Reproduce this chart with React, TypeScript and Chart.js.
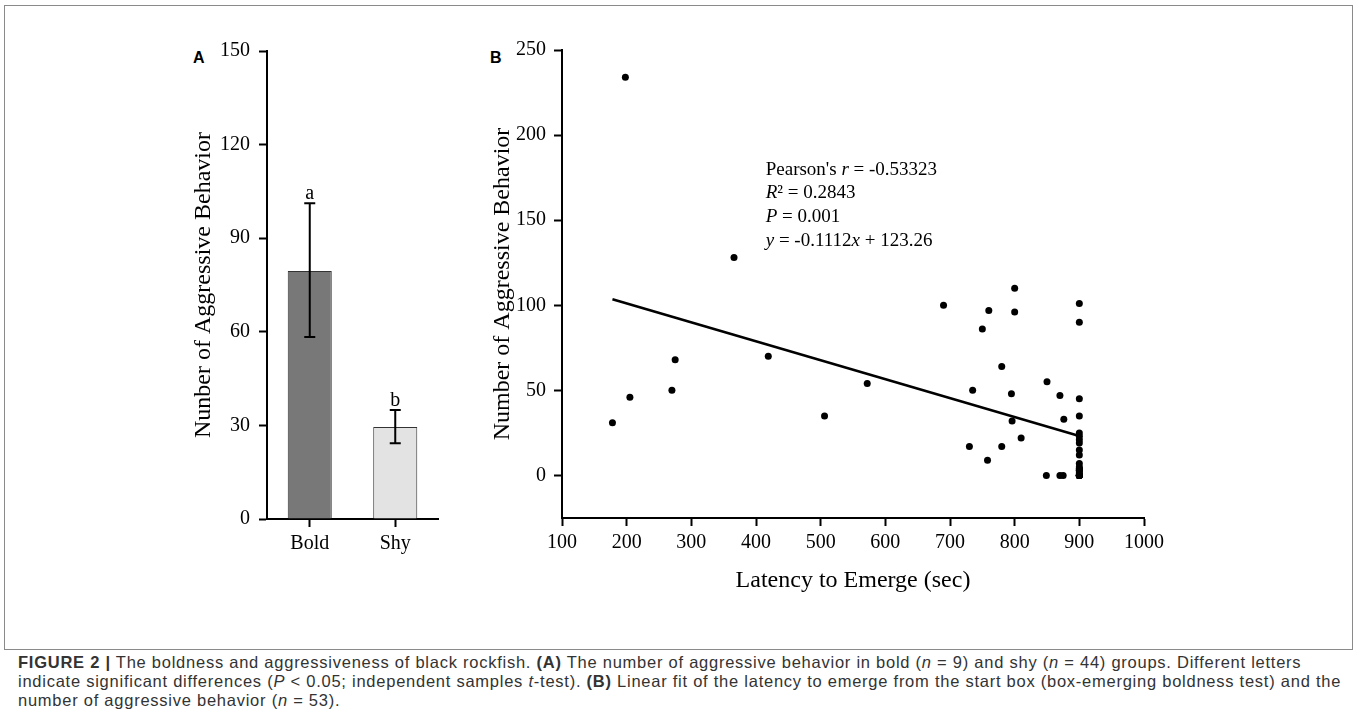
import React, { useEffect, useRef } from "react";
import { Chart, registerables } from "chart.js";

Chart.register(...registerables);

// ---------- Panel A data ----------
const GROUPS = ["Bold", "Shy"];
const GROUP_MEANS = [79.5, 29.5];
const GROUP_ERR_UPPER = [101.2, 34.9];
const GROUP_ERR_LOWER = [58.3, 24.3];
const GROUP_LETTERS = ["a", "b"];
const GROUP_COLORS = ["#787878", "#e3e3e3"];
const A_Y_TICKS = [0, 30, 60, 90, 120, 150];

// ---------- Panel B data ----------
const LATENCY = [
  178, 198, 205, 270, 275, 366, 419, 506, 572,
  690, 800, 760, 800, 750, 780, 735, 795, 850, 870, 876, 796, 810, 730, 780, 758, 849, 870, 875,
  900, 900, 900, 900, 900, 900, 900, 900, 900, 900, 900, 900, 900, 900, 900, 900, 900, 900, 900, 900, 900, 900, 900, 900, 900,
];
const AGGRESSION = [
  31, 234, 46, 50, 68, 128, 70, 35, 54,
  100, 110, 97, 96, 86, 64, 50, 48, 55, 47, 33, 32, 22, 17, 17, 9, 0, 0, 0,
  101, 90, 45, 35, 25, 23, 21, 19, 15, 12, 7, 5, 3, 0, 0, 0, 0, 0, 0, 0, 1, 2, 3, 4, 4,
];
const FIT_X = [178, 900];
const FIT_Y = [103.5, 23.2];
const B_X_TICKS = [100, 200, 300, 400, 500, 600, 700, 800, 900, 1000];
const B_Y_TICKS = [0, 50, 100, 150, 200, 250];
const STATS_X = 415;
const STATS_Y = [179.5, 166, 152, 138];

const SERIF = "'Liberation Serif', 'Times New Roman', serif";
const SANS = "'Liberation Sans', Arial, sans-serif";

const axisCommon = {
  grid: {
    display: true,
    drawOnChartArea: false,
    drawTicks: true,
    tickLength: 8,
    tickWidth: 2,
    tickColor: "#000",
  },
  border: { display: true, color: "#000", width: 2 },
};

const errorBarPlugin = {
  id: "errorBars",
  afterDatasetsDraw(chart: any) {
    const { ctx } = chart;
    const x = chart.scales.x;
    const y = chart.scales.y;
    ctx.save();
    ctx.strokeStyle = "#000";
    ctx.lineWidth = 2;
    ctx.fillStyle = "#000";
    ctx.font = `20px ${SERIF}`;
    ctx.textAlign = "center";
    ctx.textBaseline = "alphabetic";
    GROUPS.forEach((_, i) => {
      const px = x.getPixelForValue(i);
      const yt = y.getPixelForValue(GROUP_ERR_UPPER[i]);
      const yb = y.getPixelForValue(GROUP_ERR_LOWER[i]);
      ctx.beginPath();
      ctx.moveTo(px, yt);
      ctx.lineTo(px, yb);
      ctx.moveTo(px - 5.5, yt);
      ctx.lineTo(px + 5.5, yt);
      ctx.moveTo(px - 5.5, yb);
      ctx.lineTo(px + 5.5, yb);
      ctx.stroke();
      ctx.fillText(GROUP_LETTERS[i], px, yt - 4);
    });
    ctx.restore();
  },
};

type Seg = { t: string; i?: boolean };
const STATS_LINES: Seg[][] = [
  [{ t: "Pearson's " }, { t: "r", i: true }, { t: " = -0.53323" }],
  [{ t: "R", i: true }, { t: "\u00B2 = 0.2843" }],
  [{ t: "P", i: true }, { t: " = 0.001" }],
  [{ t: "y", i: true }, { t: " = -0.1112" }, { t: "x", i: true }, { t: " + 123.26" }],
];

const statsPlugin = {
  id: "statsText",
  afterDatasetsDraw(chart: any) {
    const { ctx } = chart;
    const x = chart.scales.x;
    const y = chart.scales.y;
    ctx.save();
    ctx.fillStyle = "#000";
    ctx.textAlign = "left";
    ctx.textBaseline = "middle";
    STATS_LINES.forEach((line, li) => {
      let px = x.getPixelForValue(STATS_X);
      const py = y.getPixelForValue(STATS_Y[li]);
      line.forEach((seg) => {
        ctx.font = `${seg.i ? "italic " : ""}19px ${SERIF}`;
        ctx.fillText(seg.t, px, py);
        px += ctx.measureText(seg.t).width;
      });
    });
    ctx.restore();
  },
};

export default function App() {
  const aRef = useRef<HTMLCanvasElement>(null);
  const bRef = useRef<HTMLCanvasElement>(null);

  useEffect(() => {
    const chartA = new Chart(aRef.current as HTMLCanvasElement, {
      type: "bar",
      data: {
        labels: GROUPS,
        datasets: [
          {
            data: GROUP_MEANS,
            backgroundColor: GROUP_COLORS,
            borderColor: "#333",
            borderWidth: 1,
            barPercentage: 0.515,
            categoryPercentage: 1,
          },
        ],
      },
      options: {
        responsive: false,
        animation: false,
        layout: { padding: { top: 20, right: 12, left: 0, bottom: 0 } },
        plugins: { legend: { display: false }, tooltip: { enabled: false } },
        scales: {
          x: {
            type: "category",
            offset: true,
            ...axisCommon,
            grid: { ...axisCommon.grid, offset: false },
            ticks: { color: "#000", font: { family: SERIF, size: 20 }, padding: 5, maxRotation: 0 },
            afterFit: (s: any) => {
              s.height = 41;
            },
          },
          y: {
            type: "linear",
            min: 0,
            max: 150,
            ...axisCommon,
            afterBuildTicks: (s: any) => {
              s.ticks = A_Y_TICKS.map((v) => ({ value: v }));
            },
            ticks: {
              color: "#000",
              font: { family: SERIF, size: 20 },
              padding: 9,
              callback: (v: any) => String(v),
            },
            title: {
              display: true,
              text: "Nunber of Aggressive Behavior",
              color: "#000",
              font: { family: SERIF, size: 24 },
              padding: 0,
            },
            afterFit: (s: any) => {
              s.width = 78;
            },
          },
        },
      } as any,
      plugins: [errorBarPlugin],
    });

    const chartB = new Chart(bRef.current as HTMLCanvasElement, {
      type: "scatter",
      data: {
        datasets: [
          {
            type: "scatter",
            data: LATENCY.map((v, i) => ({ x: v, y: AGGRESSION[i] })),
            pointRadius: 3.5,
            pointBackgroundColor: "#000",
            pointBorderWidth: 0,
          },
          {
            type: "line",
            data: FIT_X.map((v, i) => ({ x: v, y: FIT_Y[i] })),
            borderColor: "#000",
            borderWidth: 2.5,
            pointRadius: 0,
            showLine: true,
            fill: false,
          },
        ],
      } as any,
      options: {
        responsive: false,
        animation: false,
        layout: { padding: { top: 20, right: 30, left: 0, bottom: 0 } },
        plugins: { legend: { display: false }, tooltip: { enabled: false } },
        scales: {
          x: {
            type: "linear",
            min: 100,
            max: 1000,
            ...axisCommon,
            afterBuildTicks: (s: any) => {
              s.ticks = B_X_TICKS.map((v) => ({ value: v }));
            },
            ticks: {
              color: "#000",
              font: { family: SERIF, size: 20 },
              padding: 5,
              autoSkip: false,
              maxRotation: 0,
              callback: (v: any) => String(v),
            },
            title: {
              display: true,
              text: "Latency to Emerge (sec)",
              color: "#000",
              font: { family: SERIF, size: 24 },
              padding: 0,
            },
            afterFit: (s: any) => {
              s.height = 77;
            },
          },
          y: {
            type: "linear",
            min: -25,
            max: 250,
            ...axisCommon,
            afterBuildTicks: (s: any) => {
              s.ticks = B_Y_TICKS.map((v) => ({ value: v }));
            },
            ticks: {
              color: "#000",
              font: { family: SERIF, size: 20 },
              padding: 8,
              callback: (v: any) => String(v),
            },
            title: {
              display: true,
              text: "Number of Aggressive Behavior",
              color: "#000",
              font: { family: SERIF, size: 24 },
              padding: 0,
            },
            afterFit: (s: any) => {
              s.width = 74;
            },
          },
        },
      } as any,
      plugins: [statsPlugin],
    });

    return () => {
      chartA.destroy();
      chartB.destroy();
    };
  }, []);

  return (
    <div
      style={{
        position: "absolute",
        left: 0,
        top: 0,
        width: 1357,
        height: 710,
        background: "#fff",
        overflow: "hidden",
      }}
    >
      <div
        style={{
          position: "absolute",
          left: 4,
          top: 5,
          width: 1347,
          height: 643,
          border: "1px solid #8a8a8a",
        }}
      />
      <div
        style={{
          position: "absolute",
          left: 193,
          top: 49,
          font: `bold 16px ${SANS}`,
          color: "#000",
        }}
      >
        A
      </div>
      <div
        style={{
          position: "absolute",
          left: 490,
          top: 49,
          font: `bold 16px ${SANS}`,
          color: "#000",
        }}
      >
        B
      </div>
      <canvas
        ref={aRef}
        width={261}
        height={530}
        style={{ position: "absolute", left: 189, top: 30, width: 261, height: 530 }}
      />
      <canvas
        ref={bRef}
        width={686}
        height={565}
        style={{ position: "absolute", left: 488, top: 30, width: 686, height: 565 }}
      />
      <div
        style={{
          position: "absolute",
          left: 18,
          top: 653,
          width: 1330,
          font: `16.5px ${SANS}`,
          letterSpacing: "0.75px",
          lineHeight: "19px",
          color: "#333",
          whiteSpace: "nowrap",
        }}
      >
        <b>FIGURE 2 |</b> The boldness and aggressiveness of black rockfish. <b>(A)</b> The number of aggressive
        behavior in bold (<i>n</i> = 9) and shy (<i>n</i> = 44) groups. Different letters
        <br />
        indicate significant differences (<i>P</i> &lt; 0.05; independent samples <i>t</i>-test). <b>(B)</b> Linear
        fit of the latency to emerge from the start box (box-emerging boldness test) and the
        <br />
        number of aggressive behavior (<i>n</i> = 53).
      </div>
    </div>
  );
}
